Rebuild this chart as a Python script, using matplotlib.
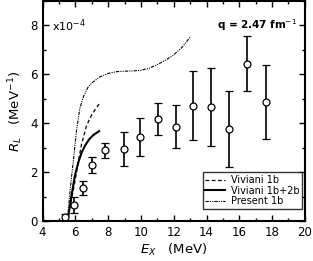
import matplotlib
matplotlib.use('Agg')
import matplotlib.pyplot as plt
import numpy as np
from matplotlib.ticker import MultipleLocator

# data points (x1e-4)
ex_data = [5.35, 5.9, 6.45, 7.0, 7.8, 8.95, 9.95, 11.05, 12.15, 13.2, 14.3, 15.4, 16.5, 17.6]
rl_data = [0.15, 0.65, 1.36, 2.29, 2.89, 2.94, 3.43, 4.16, 3.85, 4.71, 4.67, 3.76, 6.44, 4.87]
rl_err = [0.15, 0.32, 0.29, 0.33, 0.31, 0.70, 0.77, 0.65, 0.88, 1.41, 1.60, 1.56, 1.13, 1.52]

# Viviani 1b
ex_1b = [5.5, 5.62, 5.78, 5.97, 6.17, 6.38, 6.68, 7.0, 7.25, 7.48]
rl_1b = [0.0, 0.45, 0.95, 1.6, 2.4, 3.15, 3.9, 4.35, 4.6, 4.82]

# Viviani 1b+2b
ex_2b = [5.52, 5.64, 5.77, 5.97, 6.18, 6.38, 6.6, 6.85, 7.1, 7.45]
rl_2b = [0.0, 0.5, 1.06, 1.85, 2.4, 2.8, 3.1, 3.35, 3.52, 3.68]

# Present 1b
ex_pr = [5.5, 5.56, 5.7, 5.87, 6.07, 6.27, 6.5, 6.75, 7.0, 7.5, 8.0, 8.5, 9.0, 9.5, 10.0,
         10.5, 11.0, 11.5, 12.0, 12.5, 13.0]
rl_pr = [0.0, 0.38, 1.4, 2.42, 3.7, 4.6, 5.1, 5.45, 5.65, 5.9, 6.04, 6.11, 6.13, 6.14, 6.17,
         6.25, 6.4, 6.58, 6.8, 7.1, 7.52]

fig = plt.figure(figsize=(3.13, 2.61), dpi=100)
ax = fig.add_axes([0.136, 0.153, 0.838, 0.843])

ax.plot(ex_1b, rl_1b, color='black', linestyle=(0, (3, 2)), lw=0.9, label='Viviani 1b')
ax.plot(ex_2b, rl_2b, color='black', linestyle='-', lw=1.5, label='Viviani 1b+2b')
ax.plot(ex_pr, rl_pr, color='black', linestyle=(0, (3, 1, 1, 1, 1, 1)), lw=0.8, label='Present 1b')
ax.errorbar(ex_data, rl_data, yerr=rl_err, fmt='o', color='black', mfc='white', mec='black',
            ms=5, mew=0.9, elinewidth=1.2, capsize=3, capthick=1.2)

ax.set_xlim(4, 20)
ax.set_ylim(0, 9)
ax.xaxis.set_major_locator(MultipleLocator(2))
ax.xaxis.set_minor_locator(MultipleLocator(1))
ax.yaxis.set_major_locator(MultipleLocator(2))
ax.yaxis.set_minor_locator(MultipleLocator(1))
ax.tick_params(which='both', direction='in', top=True, right=True, width=1.0, labelsize=8.5)
ax.tick_params(which='major', length=4)
ax.tick_params(which='minor', length=2.5)
for s in ax.spines.values():
    s.set_linewidth(1.5)

ax.set_xlabel(r'$E_X$   (MeV)', fontsize=9.5, labelpad=2)
ax.set_ylabel(r'$R_L$   (MeV$^{-1}$)', fontsize=9.5, labelpad=4)

ax.text(4.6, 8.0, r'x10$^{-4}$', fontsize=8, va='center', ha='left')
ax.text(19.55, 8.0, r'q = 2.47 fm$^{-1}$', fontsize=7.5, va='center', ha='right', fontweight='bold')

leg = ax.legend(loc='lower right', bbox_to_anchor=(0.99, 0.055), borderaxespad=0, fontsize=7,
                frameon=True, fancybox=False, edgecolor='black', handlelength=2.0,
                handletextpad=0.6, borderpad=0.3, labelspacing=0.05)
leg.get_frame().set_linewidth(1.0)

plt.savefig('out.png', dpi=100)
